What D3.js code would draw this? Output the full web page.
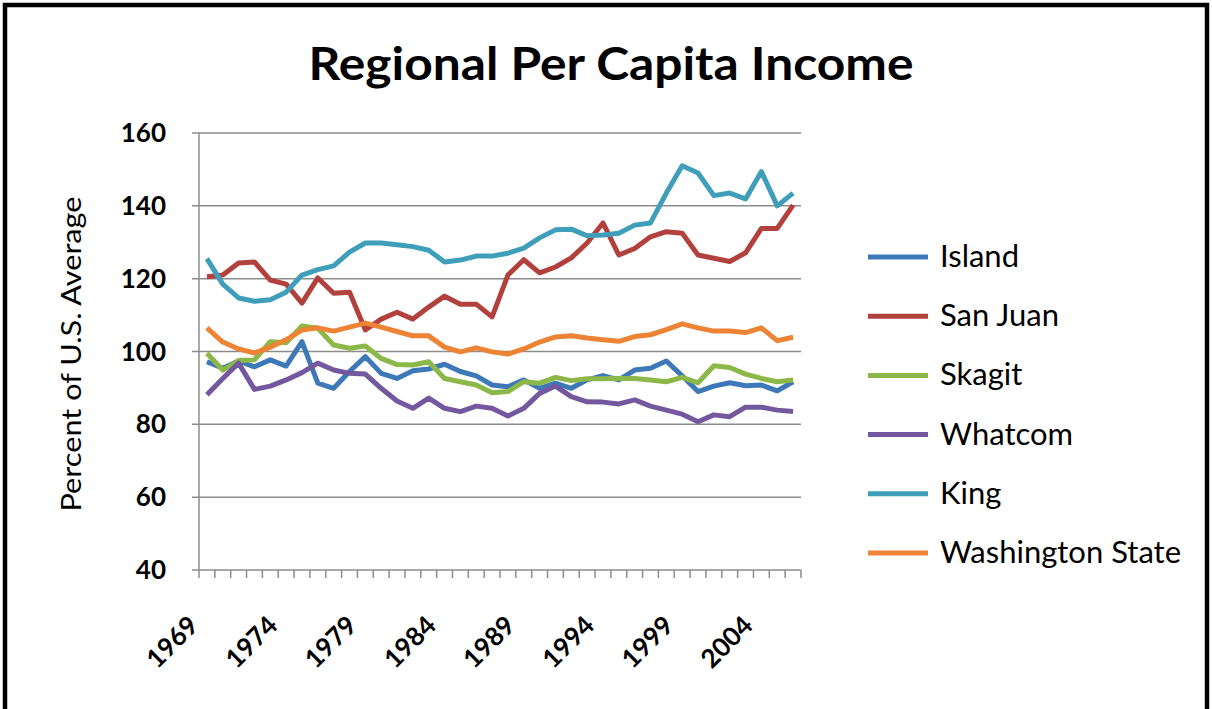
<!DOCTYPE html>
<html>
  <head>
    <meta charset="UTF-8" />
    <style>
      body {
        margin: 0;
        background-color: rgb(255, 255, 255);
      }
      text {
        font-family: Lato, 'Open Sans', sans-serif;
      }
    </style>
  </head>
  <body>
    <svg></svg>

    <script src="https://d3js.org/d3.v7.min.js"></script>

    <script>
      let width = 1212,
        height = 709

      // data (percent of U.S. average)
      let years = d3.range(1969, 2007)
      let seriesNames = ['Island', 'San Juan', 'Skagit', 'Whatcom', 'King', 'Washington State']
      let seriesColors = ['#3d78b8', '#b2413e', '#8cb84a', '#7358a0', '#3f9fbb', '#ec8335']
      let yTicks = [40, 60, 80, 100, 120, 140, 160]
      let labelYears = [1969, 1974, 1979, 1984, 1989, 1994, 1999, 2004]

      let island = [
        97.2, 95.4, 97.4, 95.8, 97.7, 96, 102.7, 91.3, 89.9, 94.5, 98.6, 94, 92.6, 94.7, 95.2, 96.5, 94.5, 93.3, 90.8,
        90.3, 92.2, 89.9, 91.3, 89.9, 92.2, 93.4, 92.2, 94.9, 95.4, 97.4, 93.3, 89, 90.5, 91.4, 90.6, 90.8, 89.2, 91.7,
      ]
      let sanJuan = [
        120.5, 121, 124.3, 124.6, 119.6, 118.5, 113.3, 120.2, 116, 116.3, 105.9, 108.9, 110.8, 108.9, 112.2, 115.2, 113,
        113, 109.5, 121, 125.2, 121.6, 123.2, 125.7, 129.8, 135.3, 126.5, 128.3, 131.5, 132.9, 132.5, 126.5, 125.6, 124.7,
        127.1, 133.8, 133.8, 140.2,
      ]
      let skagit = [
        99.5, 94.9, 97.5, 97.7, 102.7, 102.4, 107, 106.4, 101.8, 100.9, 101.5, 98.1, 96.4, 96.3, 97.2, 92.6, 91.7, 90.8,
        88.7, 89, 91.7, 91.3, 92.9, 92, 92.5, 92.5, 92.6, 92.6, 92.2, 91.7, 92.9, 91.4, 96.1, 95.6, 93.8, 92.6, 91.7, 92.2,
      ]
      let whatcom = [
        88.1, 92.6, 96.8, 89.6, 90.5, 92.2, 94.2, 96.8, 94.9, 94, 93.8, 89.9, 86.4, 84.4, 87.2, 84.4, 83.5, 85, 84.4, 82.3,
        84.4, 88.5, 90.5, 87.6, 86.2, 86.1, 85.6, 86.7, 85, 83.9, 82.8, 80.7, 82.6, 82.1, 84.7, 84.7, 83.9, 83.5,
      ]
      let king = [
        125.5, 118.5, 114.7, 113.8, 114.2, 116.3, 121, 122.5, 123.5, 127.3, 129.8, 129.8, 129.3, 128.8, 127.8, 124.6,
        125.1, 126.2, 126.2, 127, 128.4, 131.2, 133.4, 133.6, 131.8, 132, 132.5, 134.7, 135.3, 143.5, 151, 149, 142.8,
        143.5, 141.9, 149.4, 140, 143.5,
      ]
      let washington = [
        106.5, 102.6, 100.7, 99.6, 101.2, 103.2, 105.9, 106.5, 105.6, 106.7, 107.8, 106.7, 105.5, 104.3, 104.3, 101.2,
        99.9, 101, 99.9, 99.3, 100.7, 102.6, 104, 104.3, 103.7, 103.2, 102.8, 104.1, 104.6, 106, 107.6, 106.5, 105.6,
        105.6, 105.2, 106.5, 103, 103.9,
      ]
      let allSeries = [island, sanJuan, skagit, whatcom, king, washington]

      let svg = d3.select('svg').attr('width', width).attr('height', height)

      // outer frame
      svg
        .append('rect')
        .attr('x', 5)
        .attr('y', 5)
        .attr('width', 1202)
        .attr('height', 740)
        .attr('fill', 'none')
        .attr('stroke', 'black')
        .attr('stroke-width', 4.5)

      let x = d3.scaleBand().domain(years).range([199, 801])
      let y = d3.scaleLinear().domain([40, 160]).range([570, 133])
      let cx = (d) => x(d) + x.bandwidth() / 2

      // gridlines
      svg
        .append('g')
        .selectAll('line')
        .data(yTicks)
        .enter()
        .append('line')
        .attr('x1', 192)
        .attr('x2', 801)
        .attr('y1', (d) => y(d))
        .attr('y2', (d) => y(d))
        .attr('stroke', '#8c8c8c')
        .attr('stroke-width', 1.5)

      // y axis line
      svg
        .append('line')
        .attr('x1', 199)
        .attr('x2', 199)
        .attr('y1', y(160))
        .attr('y2', y(40))
        .attr('stroke', '#8c8c8c')
        .attr('stroke-width', 1.5)

      // x axis tick marks between categories
      svg
        .append('g')
        .selectAll('line')
        .data(years.map((d) => x(d)).concat([801]))
        .enter()
        .append('line')
        .attr('x1', (d) => d)
        .attr('x2', (d) => d)
        .attr('y1', y(40))
        .attr('y2', y(40) + 8)
        .attr('stroke', '#8c8c8c')
        .attr('stroke-width', 1.5)

      // y tick labels
      svg
        .append('g')
        .selectAll('text')
        .data(yTicks)
        .enter()
        .append('text')
        .attr('x', 166)
        .attr('y', (d) => y(d) + 9)
        .attr('text-anchor', 'end')
        .attr('font-size', 26)
        .attr('font-weight', 'bold')
        .text((d) => d)

      // x tick labels
      svg
        .append('g')
        .selectAll('text')
        .data(labelYears)
        .enter()
        .append('text')
        .attr('transform', (d) => 'translate(' + (cx(d) - 7) + ',' + 627 + ') rotate(-45)')
        .attr('text-anchor', 'end')
        .attr('font-size', 26)
        .attr('font-weight', 'bold')
        .text((d) => d)

      // y axis title
      svg
        .append('text')
        .attr('transform', 'translate(81,354) rotate(-90)')
        .attr('text-anchor', 'middle')
        .attr('font-size', 27)
        .attr('textLength', 315)
        .attr('lengthAdjust', 'spacingAndGlyphs')
        .text('Percent of U.S. Average')

      // title
      svg
        .append('text')
        .attr('x', 611)
        .attr('y', 80)
        .attr('text-anchor', 'middle')
        .attr('font-size', 45)
        .attr('font-weight', 'bold')
        .attr('textLength', 605)
        .attr('lengthAdjust', 'spacingAndGlyphs')
        .text('Regional Per Capita Income')

      // lines
      let line = d3
        .line()
        .x((d, i) => cx(years[i]))
        .y((d) => y(d))

      svg
        .append('g')
        .selectAll('path')
        .data(allSeries)
        .enter()
        .append('path')
        .attr('d', line)
        .attr('fill', 'none')
        .attr('stroke', (d, i) => seriesColors[i])
        .attr('stroke-width', 5)
        .attr('stroke-linejoin', 'round')

      // legend
      let legend = svg
        .append('g')
        .selectAll('g')
        .data(seriesNames)
        .enter()
        .append('g')
        .attr('transform', (d, i) => 'translate(868,' + (257 + i * 59.2) + ')')

      legend
        .append('line')
        .attr('x1', 0)
        .attr('x2', 60)
        .attr('stroke', (d, i) => seriesColors[i])
        .attr('stroke-width', 5)

      legend
        .append('text')
        .attr('x', 72)
        .attr('y', 10)
        .attr('font-size', 31)
        .text((d) => d)
    </script>
  </body>
</html>
